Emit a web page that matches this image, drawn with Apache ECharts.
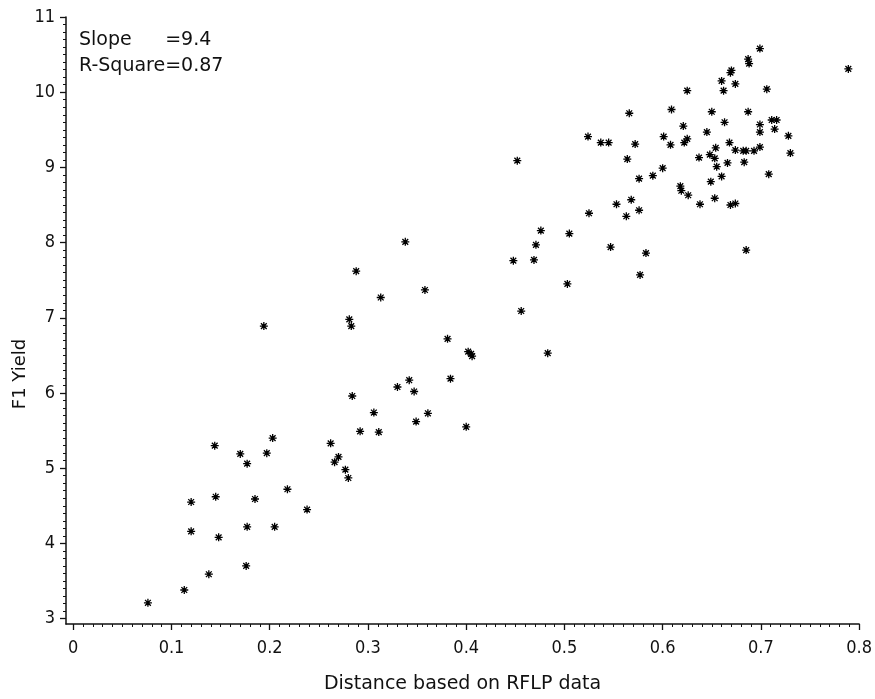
<!DOCTYPE html>
<html>
<head>
<meta charset="utf-8">
<title>F1 Yield vs RFLP distance</title>
<script src="https://cdn.jsdelivr.net/npm/echarts@6/dist/echarts.min.js"></script>
<style>
  html, body { margin: 0; padding: 0; background: #ffffff; }
  #chart { width: 875px; height: 699px; }
</style>
</head>
<body>
<div id="chart"></div>
<script>
// Genetic distance (RFLP) of each cross and its F1 yield
const distance = [
  0.076, 0.113, 0.138, 0.176, 0.120, 0.148, 0.120, 0.145, 0.177, 0.185,
  0.205, 0.218, 0.238, 0.144, 0.170, 0.177, 0.197, 0.203, 0.194, 0.281,
  0.283, 0.284, 0.262, 0.270, 0.266, 0.277, 0.280, 0.452, 0.476, 0.471,
  0.448, 0.469, 0.456, 0.338, 0.288, 0.358, 0.313, 0.381, 0.402, 0.405,
  0.406, 0.384, 0.342, 0.330, 0.347, 0.306, 0.361, 0.349, 0.400, 0.292,
  0.311, 0.566, 0.524, 0.537, 0.545, 0.572, 0.601, 0.564, 0.576, 0.590,
  0.600, 0.553, 0.568, 0.576, 0.563, 0.525, 0.505, 0.547, 0.583, 0.503,
  0.577, 0.483, 0.699, 0.687, 0.688, 0.670, 0.669, 0.660, 0.674, 0.625,
  0.662, 0.706, 0.789, 0.609, 0.650, 0.687, 0.621, 0.663, 0.699, 0.711,
  0.716, 0.714, 0.699, 0.728, 0.645, 0.608, 0.625, 0.622, 0.668, 0.654,
  0.674, 0.682, 0.685, 0.693, 0.699, 0.730, 0.648, 0.653, 0.637, 0.666,
  0.683, 0.655, 0.660, 0.708, 0.649, 0.618, 0.619, 0.626, 0.653, 0.638,
  0.669, 0.674, 0.685
];
const f1Yield = [
  3.21, 3.38, 3.59, 3.70, 4.16, 4.08, 4.55, 4.62, 4.22, 4.59,
  4.22, 4.72, 4.45, 5.30, 5.19, 5.06, 5.20, 5.40, 6.89, 6.98,
  6.89, 5.96, 5.33, 5.15, 5.08, 4.98, 4.87, 9.09, 8.16, 7.97,
  7.76, 7.77, 7.09, 8.01, 7.62, 7.37, 7.27, 6.72, 6.55, 6.52,
  6.49, 6.19, 6.17, 6.08, 6.02, 5.74, 5.73, 5.62, 5.55, 5.49,
  5.48, 9.72, 9.41, 9.33, 9.33, 9.31, 9.41, 9.11, 8.85, 8.89,
  8.99, 8.51, 8.57, 8.43, 8.35, 8.39, 8.12, 7.94, 7.86, 7.45,
  7.57, 6.53, 10.58, 10.44, 10.38, 10.29, 10.26, 10.15, 10.11, 10.02,
  10.02, 10.04, 10.31, 9.77, 9.74, 9.74, 9.55, 9.60, 9.57, 9.63,
  9.63, 9.51, 9.47, 9.42, 9.47, 9.30, 9.38, 9.33, 9.33, 9.26,
  9.23, 9.22, 9.22, 9.22, 9.27, 9.19, 9.17, 9.12, 9.13, 9.06,
  9.07, 9.01, 8.88, 8.91, 8.81, 8.75, 8.69, 8.63, 8.59, 8.51,
  8.50, 8.52, 7.90
];

// Axis ticks and their labels
const xTicks = [0, 0.1, 0.2, 0.3, 0.4, 0.5, 0.6, 0.7, 0.8];
const xTickLabels = ['0', '0.1', '0.2', '0.3', '0.4', '0.5', '0.6', '0.7', '0.8'];
const yTicks = [3, 4, 5, 6, 7, 8, 9, 10, 11];
const yTickLabels = ['3', '4', '5', '6', '7', '8', '9', '10', '11'];

// Regression summary printed in the corner
const slopeName = 'Slope';
const slopeText = '=9.4';
const rsqName = 'R-Square';
const rsqText = 'R-Square=0.87';

const xTitle = 'Distance based on RFLP data';
const yTitle = 'F1 Yield';

// Minor tick positions: ten steps between neighbouring major ticks
function minorBetween(majors) {
  const out = [];
  for (let i = 0; i < majors.length - 1; i++) {
    const a = majors[i], b = majors[i + 1];
    for (let k = 1; k < 10; k++) out.push(+(a + (b - a) * k / 10).toFixed(4));
  }
  return out;
}
const xMinor = minorBetween(xTicks);
const yMinor = minorBetween(yTicks);

const points = distance.map((d, i) => [d, f1Yield[i]]);

function labelFor(ticks, labels) {
  return function (v) {
    const i = ticks.findIndex(t => Math.abs(t - v) < 1e-6);
    return i >= 0 ? labels[i] : '';
  };
}

const ink = '#111111';
const tickFont = "'Liberation Sans Narrow', 'DejaVu Sans Condensed', 'Liberation Sans', sans-serif";
const textFont = "'DejaVu Sans', 'Liberation Sans', sans-serif";

const X_MIN = -0.0074, X_MAX = 0.8;
const Y_MIN = 2.928, Y_MAX = 11;

const star = 'path://M0,-5L0,5M-5,0L5,0M-3.6,-3.6L3.6,3.6M-3.6,3.6L3.6,-3.6';

// The "=9.4" starts where the equals sign of the R-Square line sits
const statSize = 19;
const statFont = statSize + 'px ' + textFont;
const measureCtx = document.createElement('canvas').getContext('2d');
measureCtx.font = statFont;
const eqOffset = measureCtx.measureText(rsqName).width;
const statLeft = 79;

const graphics = [
  {
    type: 'text', x: statLeft, y: 40,
    style: { text: slopeName, fill: ink, font: statFont, verticalAlign: 'middle', textVerticalAlign: 'middle' }
  },
  {
    type: 'text', x: statLeft + eqOffset, y: 40,
    style: { text: slopeText, fill: ink, font: statFont, verticalAlign: 'middle', textVerticalAlign: 'middle' }
  },
  {
    type: 'text', x: statLeft, y: 66,
    style: { text: rsqText, fill: ink, font: statFont, verticalAlign: 'middle', textVerticalAlign: 'middle' }
  },
  {
    type: 'text', x: 20, y: 374, rotation: Math.PI / 2,
    style: { text: yTitle, fill: ink, font: '18px ' + textFont, align: 'center', textAlign: 'center', verticalAlign: 'middle', textVerticalAlign: 'middle' }
  }
];

const chart = echarts.init(document.getElementById('chart'), null, { renderer: 'canvas' });

chart.setOption({
  backgroundColor: '#ffffff',
  animation: false,
  grid: { left: 66, top: 17, width: 802, height: 617 },
  xAxis: [
    {
      type: 'value', min: X_MIN, max: X_MAX, position: 'bottom',
      axisLine: { show: true, onZero: false, lineStyle: { color: ink, width: 1.5 } },
      axisTick: { show: true, inside: false, length: 6, customValues: xTicks, lineStyle: { color: ink, width: 1.3 } },
      axisLabel: {
        customValues: xTicks, formatter: labelFor(xTicks, xTickLabels),
        margin: 15, fontSize: 18, color: ink, fontFamily: tickFont
      },
      splitLine: { show: false },
      name: xTitle, nameLocation: 'middle', nameGap: 51,
      nameTextStyle: { fontSize: 19, color: ink, fontFamily: textFont }
    },
    {
      type: 'value', min: X_MIN, max: X_MAX, position: 'bottom',
      axisLine: { show: false, onZero: false },
      axisTick: { show: true, inside: false, length: 3, customValues: xMinor, lineStyle: { color: ink, width: 1 } },
      axisLabel: { show: false },
      splitLine: { show: false }
    }
  ],
  yAxis: [
    {
      type: 'value', min: Y_MIN, max: Y_MAX, position: 'left',
      axisLine: { show: true, onZero: false, lineStyle: { color: ink, width: 1.5 } },
      axisTick: { show: true, inside: false, length: 6, customValues: yTicks, lineStyle: { color: ink, width: 1.3 } },
      axisLabel: {
        customValues: yTicks, formatter: labelFor(yTicks, yTickLabels),
        margin: 11, fontSize: 18, color: ink, fontFamily: tickFont
      },
      splitLine: { show: false }
    },
    {
      type: 'value', min: Y_MIN, max: Y_MAX, position: 'left',
      axisLine: { show: false, onZero: false },
      axisTick: { show: true, inside: false, length: 3, customValues: yMinor, lineStyle: { color: ink, width: 1 } },
      axisLabel: { show: false },
      splitLine: { show: false }
    }
  ],
  series: [
    {
      type: 'scatter', xAxisIndex: 0, yAxisIndex: 0,
      data: points,
      symbol: star, symbolSize: 8,
      itemStyle: { color: '#000000', borderColor: '#000000', borderWidth: 1.3, opacity: 1 },
      emphasis: { disabled: true }
    }
  ],
  graphic: graphics
});
</script>
</body>
</html>
